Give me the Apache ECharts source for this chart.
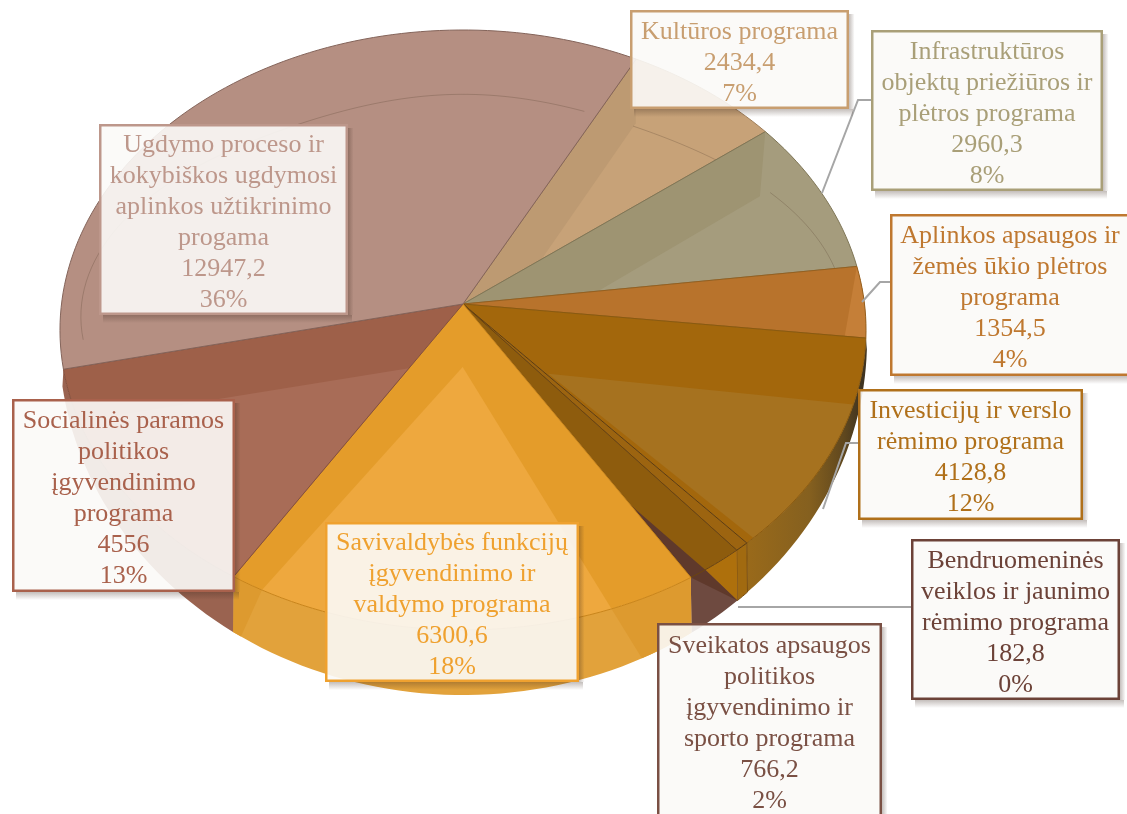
<!DOCTYPE html>
<html><head><meta charset="utf-8">
<style>html,body{margin:0;padding:0;background:#fff;overflow:hidden}#c{width:1127px;height:814px}</style>
<script src="https://cdn.jsdelivr.net/npm/echarts@6/dist/echarts.min.js"></script>
</head><body><div id="c"></div>
<script>
// ---------- data (clockwise from the top-right of the pie) ----------
const categories = [
  'Kultūros programa',
  'Infrastruktūros\nobjektų priežiūros ir\nplėtros programa',
  'Aplinkos apsaugos ir\nžemės ūkio plėtros\nprograma',
  'Investicijų ir verslo\nrėmimo programa',
  'Bendruomeninės\nveiklos ir jaunimo\nrėmimo programa',
  'Sveikatos apsaugos\npolitikos\nįgyvendinimo ir\nsporto programa',
  'Savivaldybės funkcijų\nįgyvendinimo ir\nvaldymo programa',
  'Socialinės paramos\npolitikos\nįgyvendinimo\nprograma',
  'Ugdymo proceso ir\nkokybiškos ugdymosi\naplinkos užtikrinimo\nprogama'
];
const values = [2434.4, 2960.3, 1354.5, 4128.8, 182.8, 766.2, 6300.6, 4556, 12947.2];
const valueLabels = ['2434,4', '2960,3', '1354,5', '4128,8', '182,8', '766,2', '6300,6', '4556', '12947,2'];
const percents = ['7%', '8%', '4%', '12%', '0%', '2%', '18%', '13%', '36%'];

// ---------- geometry and style ----------
const START_DEG = 27.6, PX = 463, PK = 401.5, PC = 0.0867, PA = 30 * PC - 274, PB = 304;
const total = values.reduce((a, b) => a + b, 0);
const starts = [], spans = [];
values.reduce((acc, v, i) => { starts[i] = acc; spans[i] = v / total * 360; return acc + spans[i]; }, START_DEG);
const rad = d => d * Math.PI / 180;
function P(deg, r) {
  const u = r * Math.sin(rad(deg)), v = r * Math.cos(rad(deg)), w = 1 + PC * v;
  return [PX + PK * u / w, (PA * v + PB) / w];
}
function Q(deg) { const p = P(deg, 1); return [PX + (p[0] - PX) * 404 / 403, 340 + (p[1] - 330) * 355 / 300]; }
const warp = d => d + 0.65 * (1 - Math.cos(rad(d)));
const ang = (i, t) => warp(starts[i] + t * spans[i]);
const innerR = deg => 0.75 + 0.2 * Math.pow(Math.sin(rad(deg)), 4);
function arcPts(i, t1, t2, fn) {
  const n = Math.max(2, Math.ceil(Math.abs(t2 - t1) * spans[i] / 1.5)), out = [];
  for (let k = 0; k <= n; k++) out.push(fn(ang(i, t1 + (t2 - t1) * k / n)));
  return out;
}
// path items: [t,r] polar point; {q:t} wall-bottom point; {arc:[a,b]} rim; {qarc:[a,b]} wall-bottom arc
function build(i, path) {
  const out = [];
  path.forEach(p => {
    if (Array.isArray(p)) out.push(P(ang(i, p[0]), p[1]));
    else if (p.q !== undefined) out.push(Q(ang(i, p.q)));
    else if (p.arc) out.push(...arcPts(i, p.arc[0], p.arc[1], d => P(d, 1)));
    else if (p.qarc) out.push(...arcPts(i, p.qarc[0], p.qarc[1], Q));
  });
  return out;
}
const wholeWall = [{ arc: [0, 1] }, { qarc: [1, 0] }];
const invWall = new echarts.graphic.LinearGradient(745, 0, 862, 0, [
  { offset: 0, color: '#9A6A1A' }, { offset: 0.55, color: '#85601F' }, { offset: 0.85, color: '#5F471E' }, { offset: 1, color: '#3F3320' }
], true);
const wallStyle = {
  3: [{ fill: invWall, path: wholeWall }],
  4: [{ fill: '#A16A10', stroke: '#7A4E10', path: wholeWall }],
  5: [{ fill: '#6E4A40', path: wholeWall }, { fill: '#AE700C', path: [[0, 1], { arc: [0, 0.7] }, { q: 0 }] }],
  6: [{ fill: '#E2A23B', path: wholeWall },
      { fill: '#DD9A2F', path: [{ arc: [0, 0.185] }, { q: 0.118 }, { qarc: [0.118, 0] }] },
      { fill: '#DD9A2F', path: [{ arc: [1, 0.93] }, { q: 0.98 }, { q: 1 }] }],
  7: [{ fill: '#9A6350', path: wholeWall }]
};
const faceStyle = [
  { base: '#C7A278', stroke: '#A07F5A', facets: [{ fill: '#BD9A72', path: [[0, 0], [0, 1], [0.31, 0.785], [1, 0.25]] }], arc: [0.31, 1] },
  { base: '#A59C7D', stroke: '#7F7656', facets: [{ fill: '#9E9472', path: [[0, 0], [0, 1], [0.38, 0.85], [1, 0.34]] }], arc: [0.38, 1] },
  { base: '#B8732C', stroke: '#96601F', facets: [{ fill: '#C57F38', path: [{ arc: [0, 1] }, [1, 0.948]] }] },
  { base: '#A3670C', stroke: '#8A5A10', facets: [{ fill: '#A6721F', path: [[0.98, 0.31], { arc: [0.30, 0.97] }] }] },
  { base: '#9C6410', stroke: '#5E3D12', facets: [] },
  { base: '#8E5C0D', stroke: '#6B4410', facets: [{ fill: '#5F392B', path: [[1, 0.75], [0.7, 1], { q: 0 }, [1, 1]] }] },
  { base: '#E49C2A', stroke: '#C9851B', facets: [{ fill: '#EEA83E', path: [[0.5, 0.208], { arc: [0.185, 0.93] }] }] },
  { base: '#9E6049', stroke: '#85503D', facets: [{ fill: '#A86C57', path: [[0, 0.25], { arc: [0.78, 0] }] }] },
  { base: '#B58F82', stroke: '#84645A', facets: [], arc: [0.04, 0.98] }
];
const labelBoxes = [
  { x: 630, y: 10, w: 219, h: 99, color: '#C89E70' },
  { x: 871, y: 30, w: 232, h: 161, color: '#A99F78' },
  { x: 890, y: 214, w: 240, h: 162, color: '#BF7830' },
  { x: 858, y: 389, w: 225, h: 131, color: '#B0701A' },
  { x: 911, y: 539, w: 209, h: 161, color: '#6C4238' },
  { x: 657, y: 623, w: 225, h: 195, color: '#7A5044' },
  { x: 325, y: 522, w: 254, h: 160, color: '#EFA12F' },
  { x: 12, y: 399, w: 223, h: 193, color: '#A9614C' },
  { x: 99, y: 124, w: 249, h: 191, color: '#BD978B' }
];
const leaders = [
  [[871, 100], [858, 100], [822, 193]],
  [[890, 282], [880, 282], [862, 302]],
  [[858, 443], [846, 443], [823, 509]],
  [[911, 607], [738, 607]]
];
const FONT = '26px "Liberation Serif", "Times New Roman", serif';
const LG = echarts.graphic.LinearGradient;
const shadowStops = [{ offset: 0, color: 'rgba(60,40,30,0.30)' }, { offset: 1, color: 'rgba(60,40,30,0)' }];

function renderWall(params, api) {
  const i = params.dataIndex, layers = wallStyle[i] || [];
  api.value(0);
  return { type: 'group', silent: true, children: layers.map(l => ({
    type: 'polygon', shape: { points: build(i, l.path) },
    style: { fill: l.fill, stroke: l.stroke || null, lineWidth: l.stroke ? 1 : 0 }
  })) };
}
function renderFace(params, api) {
  const i = params.dataIndex, s = faceStyle[i];
  api.value(0);
  const outline = [P(0, 0)].concat(arcPts(i, 0, 1, d => P(d, 1)));
  const kids = [{ type: 'polygon', shape: { points: outline }, style: { fill: s.base, stroke: null } }];
  s.facets.forEach(f => kids.push({ type: 'polygon', shape: { points: build(i, f.path) }, style: { fill: f.fill, stroke: null } }));
  kids.push({ type: 'polygon', shape: { points: outline }, style: { fill: null, stroke: s.stroke, lineWidth: 1 } });
  if (s.arc) kids.push({ type: 'polyline', shape: { points: arcPts(i, s.arc[0], s.arc[1], d => P(d, innerR(d))) },
    style: { fill: null, stroke: 'rgba(90,70,50,0.28)', lineWidth: 1 } });
  return { type: 'group', silent: true, children: kids };
}
function renderLabel(params, api) {
  const i = params.dataIndex, b = labelBoxes[i];
  api.value(0);
  const bw = 2.5, sh = 8;
  return { type: 'group', silent: true, children: [
    { type: 'rect', shape: { x: b.x + 4, y: b.y + b.h, width: b.w, height: sh },
      style: { fill: new LG(0, b.y + b.h, 0, b.y + b.h + sh, shadowStops, true) } },
    { type: 'rect', shape: { x: b.x + b.w, y: b.y + 4, width: sh * 0.7, height: b.h - 4 },
      style: { fill: new LG(b.x + b.w, 0, b.x + b.w + sh * 0.7, 0, shadowStops, true) } },
    { type: 'rect', shape: { x: b.x + bw / 2, y: b.y + bw / 2, width: b.w - bw, height: b.h - bw },
      style: { fill: 'rgba(251,249,247,0.9)', stroke: b.color, lineWidth: bw } },
    { type: 'text', x: b.x + b.w / 2, y: b.y + b.h / 2 + 3.5,
      style: { text: [categories[i], valueLabels[i], percents[i]].join('\n'), font: FONT, fill: b.color,
        lineHeight: 31, align: 'center', verticalAlign: 'middle' } }
  ] };
}
const leaderSeries = {
  type: 'custom', coordinateSystem: 'none', z: 4, silent: true, data: leaders.map((_, i) => i),
  renderItem: (p) => ({ type: 'polyline', shape: { points: leaders[p.dataIndex] },
    style: { fill: null, stroke: '#A6A6A6', lineWidth: 2 } })
};
const chart = echarts.init(document.getElementById('c'), null, { renderer: 'canvas', width: 1127, height: 814 });
chart.setOption({
  animation: false,
  backgroundColor: '#ffffff',
  series: [
    { type: 'custom', coordinateSystem: 'none', z: 2, data: values, renderItem: renderWall },
    { type: 'custom', coordinateSystem: 'none', z: 3, data: values, renderItem: renderFace },
    leaderSeries,
    { type: 'custom', coordinateSystem: 'none', z: 5, data: values, renderItem: renderLabel }
  ]
});
</script></body></html>
